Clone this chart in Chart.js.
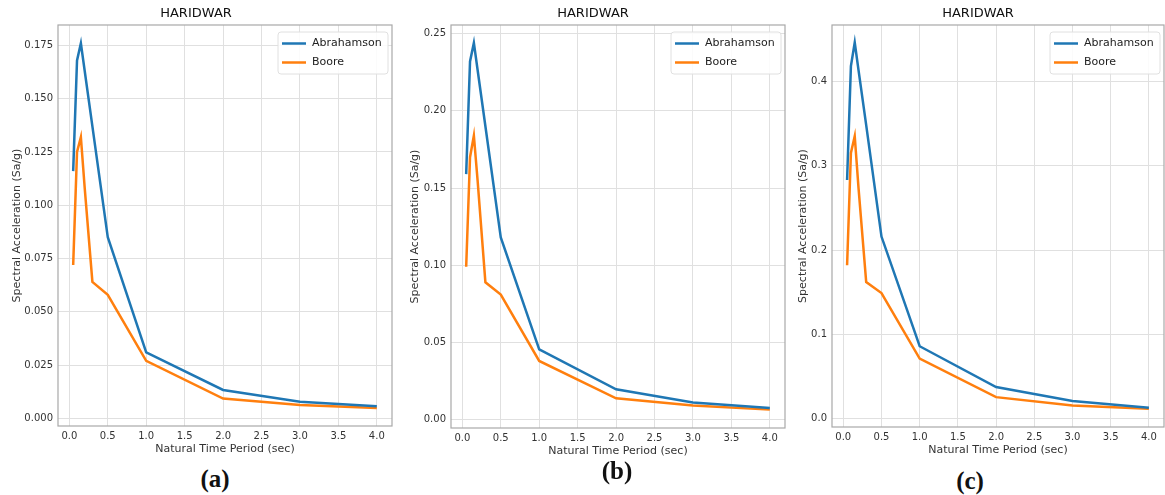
<!DOCTYPE html>
<html>
<head>
<meta charset="utf-8">
<script src="https://cdn.jsdelivr.net/npm/chart.js@4/dist/chart.umd.min.js"></script>
<style>
  body { margin: 0; background: #fff; width: 1165px; height: 495px; position: relative; overflow: hidden; }
  canvas { position: absolute; top: 0; }
  .tag { position: absolute; font-family: "Liberation Serif", serif; font-weight: bold; font-size: 25px; color: #111; transform: translate(-50%, -50%); }
</style>
</head>
<body>
<canvas id="chartA" width="393" height="458" style="left:0px"></canvas>
<canvas id="chartB" width="385" height="460" style="left:401px"></canvas>
<canvas id="chartC" width="373" height="459" style="left:792px"></canvas>
<div class="tag" style="left:215px; top:479px">(a)</div>
<div class="tag" style="left:617px; top:471px">(b)</div>
<div class="tag" style="left:970px; top:481px">(c)</div>

<script>
// ===== Spectral acceleration curves, Haridwar =====

// Natural time periods (sec)
const periods = [0.05, 0.1, 0.15, 0.2, 0.3, 0.5, 1.0, 2.0, 3.0, 4.0];

// (a)
const abrahamsonA = [0.116, 0.168, 0.176, 0.163, 0.137, 0.085, 0.031, 0.0133, 0.0078, 0.0057];
const booreA      = [0.072, 0.125, 0.132, 0.108, 0.064, 0.058, 0.027, 0.0093, 0.0062, 0.0048];
// (b)
const abrahamsonB = [0.159, 0.232, 0.244, 0.226, 0.190, 0.118, 0.0455, 0.0197, 0.0111, 0.0075];
const booreB      = [0.099, 0.170, 0.184, 0.154, 0.089, 0.081, 0.038, 0.0138, 0.0092, 0.0065];
// (c)
const abrahamsonC = [0.283, 0.418, 0.446, 0.413, 0.348, 0.216, 0.086, 0.0376, 0.021, 0.013];
const booreC      = [0.182, 0.315, 0.335, 0.273, 0.162, 0.149, 0.0713, 0.0257, 0.0158, 0.0119];

// Tick labels
const xTicks  = [0, 0.5, 1.0, 1.5, 2.0, 2.5, 3.0, 3.5, 4.0];
const yTicksA = [0, 0.025, 0.05, 0.075, 0.1, 0.125, 0.15, 0.175];
const yTicksB = [0, 0.05, 0.1, 0.15, 0.2, 0.25];
const yTicksC = [0, 0.1, 0.2, 0.3, 0.4];

const seriesNames = ['Abrahamson', 'Boore'];
const seriesColors = ['#1f77b4', '#ff7f0e'];

const FONT = 'DejaVu Sans';

// Grey box round the plot area
const framePlugin = {
    id: 'frame',
    afterDraw(chart) {
        const { ctx, chartArea: a } = chart;
        ctx.save();
        ctx.strokeStyle = '#a8a8a8';
        ctx.lineWidth = 1.2;
        ctx.strokeRect(a.left, a.top, a.right - a.left, a.bottom - a.top);
        ctx.restore();
    }
};

// Legend drawn inside the plot, top right
const insideLegend = {
    id: 'insideLegend',
    afterDraw(chart) {
        const { ctx, chartArea: a } = chart;
        const w = 110, h = 42;
        const x = a.right - 4 - w, y = a.top + 7;
        ctx.save();
        ctx.fillStyle = 'rgba(255,255,255,0.85)';
        ctx.strokeStyle = '#e0e0e0';
        ctx.lineWidth = 1;
        ctx.beginPath();
        ctx.roundRect(x, y, w, h, 3);
        ctx.fill();
        ctx.stroke();
        ctx.font = '11px "' + FONT + '"';
        ctx.textBaseline = 'middle';
        chart.data.datasets.forEach((ds, i) => {
            const ly = y + 11.5 + i * 19;
            ctx.strokeStyle = ds.borderColor;
            ctx.lineWidth = 2.5;
            ctx.beginPath();
            ctx.moveTo(x + 4, ly);
            ctx.lineTo(x + 28, ly);
            ctx.stroke();
            ctx.fillStyle = '#222';
            ctx.fillText(ds.label, x + 34, ly);
        });
        ctx.restore();
    }
};

function makeChart(id, curves, yTicks, yMin, yMax, decimals, yWidth, yTitlePad) {
    const datasets = curves.map((vals, i) => ({
        label: seriesNames[i],
        data: periods.map((p, k) => ({ x: p, y: vals[k] })),
        borderColor: seriesColors[i],
        backgroundColor: seriesColors[i],
        borderWidth: 2.5,
        pointRadius: 0,
        tension: 0,
        fill: false
    }));

    return new Chart(document.getElementById(id), {
        type: 'line',
        data: { datasets },
        options: {
            responsive: false,
            animation: false,
            devicePixelRatio: 1,
            layout: { padding: { left: 0, right: 1, top: 0, bottom: 0 } },
            plugins: {
                legend: { display: false },
                tooltip: { enabled: false },
                title: {
                    display: true,
                    text: 'HARIDWAR',
                    color: '#111',
                    font: { family: FONT, size: 13, weight: 'normal' },
                    padding: { top: 6, bottom: 3.4 }
                }
            },
            scales: {
                x: {
                    type: 'linear',
                    min: -0.1475,
                    max: 4.1975,
                    afterBuildTicks: s => { s.ticks = xTicks.map(v => ({ value: v })); },
                    afterFit: s => { s.height = 32; },
                    border: { display: false },
                    grid: { color: '#e0e0e0', lineWidth: 1, drawTicks: false },
                    ticks: {
                        color: '#333',
                        padding: 4,
                        maxRotation: 0,
                        font: { family: FONT, size: 10 },
                        callback: v => v.toFixed(1)
                    },
                    title: {
                        display: true,
                        text: 'Natural Time Period (sec)',
                        color: '#333',
                        font: { family: FONT, size: 11 },
                        padding: { top: 0, bottom: 2 }
                    }
                },
                y: {
                    type: 'linear',
                    min: yMin,
                    max: yMax,
                    afterBuildTicks: s => { s.ticks = yTicks.map(v => ({ value: v })); },
                    afterFit: s => { s.width = yWidth; },
                    border: { display: false },
                    grid: { color: '#e0e0e0', lineWidth: 1, drawTicks: false },
                    ticks: {
                        color: '#333',
                        padding: 5,
                        font: { family: FONT, size: 10 },
                        callback: v => v.toFixed(decimals)
                    },
                    title: {
                        display: true,
                        text: 'Spectral Acceleration (Sa/g)',
                        color: '#333',
                        font: { family: FONT, size: 11 },
                        padding: { top: yTitlePad, bottom: 0 }
                    }
                }
            }
        },
        plugins: [framePlugin, insideLegend]
    });
}

makeChart('chartA', [abrahamsonA, booreA], yTicksA, -0.0036, 0.1846, 3, 58, 10.4);
makeChart('chartB', [abrahamsonB, booreB], yTicksB, -0.0054, 0.2556, 2, 50, 7.4);
makeChart('chartC', [abrahamsonC, booreC], yTicksC, -0.0097, 0.4667, 1, 40, 4.4);
</script>
</body>
</html>
